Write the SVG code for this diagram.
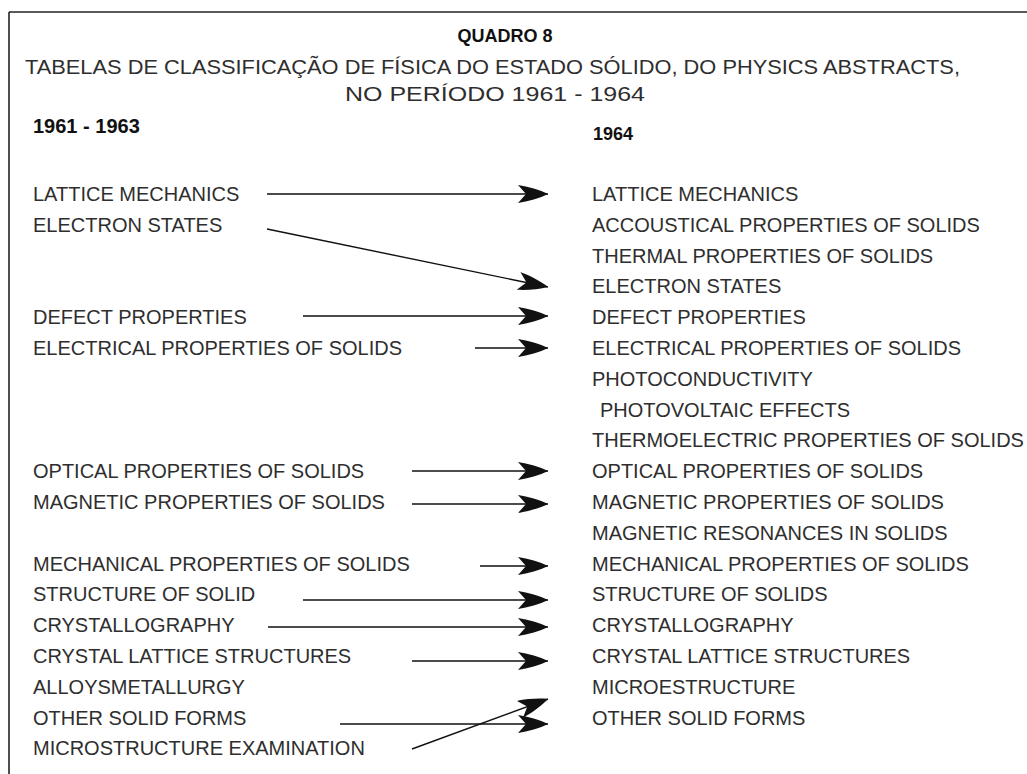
<svg xmlns="http://www.w3.org/2000/svg" width="1027" height="774" viewBox="0 0 1027 774">
  <style>
    .t { font-family: "Liberation Sans", Arial, sans-serif; font-size: 20px; fill: #2e2e2e; }
    .b { font-family: "Liberation Sans", Arial, sans-serif; font-weight: bold; fill: #111; }
    .c { text-anchor: middle; }
    .frame { stroke: #222; stroke-width: 1.6; fill: none; }
    .link { stroke: #111; stroke-width: 1.4; fill: none; marker-end: url(#barb); }
  </style>
  <defs>
    <marker id="barb" markerUnits="userSpaceOnUse" viewBox="0 0 30 18" refX="30" refY="9" markerWidth="30" markerHeight="18" orient="auto">
      <path d="M30,9 C22,5 10,1.5 0,0 L8,9 L0,18 C10,16.5 22,13 30,9 Z" fill="#111"/>
    </marker>
  </defs>
  <rect width="1027" height="774" fill="#fff"/>

  <!-- frame -->
  <g id="frame">
    <line class="frame" x1="9" y1="12" x2="1027" y2="12"/>
    <line class="frame" x1="9" y1="12" x2="9" y2="774"/>
  </g>

  <!-- heading -->
  <g id="heading">
    <text class="b c" x="505" y="42" font-size="18">QUADRO 8</text>
    <text class="t" x="25" y="74" textLength="935" lengthAdjust="spacingAndGlyphs">TABELAS DE CLASSIFICAÇÃO DE FÍSICA DO ESTADO SÓLIDO, DO PHYSICS ABSTRACTS,</text>
    <text class="t" x="345" y="101" textLength="300" lengthAdjust="spacingAndGlyphs">NO PERÍODO 1961 - 1964</text>
    <text class="b" x="33" y="133" font-size="20">1961 - 1963</text>
    <text class="b" x="593" y="140" font-size="18">1964</text>
  </g>

  <!-- 1961-1963 headings -->
  <g id="old">
    <text class="t" x="33" y="201">LATTICE MECHANICS</text>
    <text class="t" x="33" y="232">ELECTRON STATES</text>
    <text class="t" x="33" y="324">DEFECT PROPERTIES</text>
    <text class="t" x="33" y="355">ELECTRICAL PROPERTIES OF SOLIDS</text>
    <text class="t" x="33" y="478">OPTICAL PROPERTIES OF SOLIDS</text>
    <text class="t" x="33" y="509">MAGNETIC PROPERTIES OF SOLIDS</text>
    <text class="t" x="33" y="571">MECHANICAL PROPERTIES OF SOLIDS</text>
    <text class="t" x="33" y="601">STRUCTURE OF SOLID</text>
    <text class="t" x="33" y="632">CRYSTALLOGRAPHY</text>
    <text class="t" x="33" y="663">CRYSTAL LATTICE STRUCTURES</text>
    <text class="t" x="33" y="694">ALLOYSMETALLURGY</text>
    <text class="t" x="33" y="725">OTHER SOLID FORMS</text>
    <text class="t" x="33" y="755">MICROSTRUCTURE EXAMINATION</text>
  </g>

  <!-- 1964 headings -->
  <g id="new">
    <text class="t" x="592" y="201">LATTICE MECHANICS</text>
    <text class="t" x="592" y="232">ACCOUSTICAL PROPERTIES OF SOLIDS</text>
    <text class="t" x="592" y="263">THERMAL PROPERTIES OF SOLIDS</text>
    <text class="t" x="592" y="293">ELECTRON STATES</text>
    <text class="t" x="592" y="324">DEFECT PROPERTIES</text>
    <text class="t" x="592" y="355">ELECTRICAL PROPERTIES OF SOLIDS</text>
    <text class="t" x="592" y="386">PHOTOCONDUCTIVITY</text>
    <text class="t" x="600" y="417">PHOTOVOLTAIC EFFECTS</text>
    <text class="t" x="592" y="447">THERMOELECTRIC PROPERTIES OF SOLIDS</text>
    <text class="t" x="592" y="478">OPTICAL PROPERTIES OF SOLIDS</text>
    <text class="t" x="592" y="509">MAGNETIC PROPERTIES OF SOLIDS</text>
    <text class="t" x="592" y="540">MAGNETIC RESONANCES IN SOLIDS</text>
    <text class="t" x="592" y="571">MECHANICAL PROPERTIES OF SOLIDS</text>
    <text class="t" x="592" y="601">STRUCTURE OF SOLIDS</text>
    <text class="t" x="592" y="632">CRYSTALLOGRAPHY</text>
    <text class="t" x="592" y="663">CRYSTAL LATTICE STRUCTURES</text>
    <text class="t" x="592" y="694">MICROESTRUCTURE</text>
    <text class="t" x="592" y="725">OTHER SOLID FORMS</text>
  </g>

  <!-- connectors -->
  <g id="connectors">
    <line class="link" x1="267" y1="194" x2="548" y2="194"/>
    <line class="link" x1="267" y1="229" x2="548" y2="287"/>
    <line class="link" x1="303" y1="316" x2="548" y2="316"/>
    <line class="link" x1="475" y1="348" x2="548" y2="348"/>
    <line class="link" x1="412" y1="471" x2="548" y2="471"/>
    <line class="link" x1="412" y1="504" x2="548" y2="504"/>
    <line class="link" x1="480" y1="566" x2="548" y2="566"/>
    <line class="link" x1="303" y1="600" x2="548" y2="600"/>
    <line class="link" x1="268" y1="627" x2="548" y2="627"/>
    <line class="link" x1="412" y1="661" x2="548" y2="661"/>
    <line class="link" x1="340" y1="724" x2="548" y2="724"/>
    <line class="link" x1="412" y1="749" x2="548" y2="699"/>
  </g>
</svg>
